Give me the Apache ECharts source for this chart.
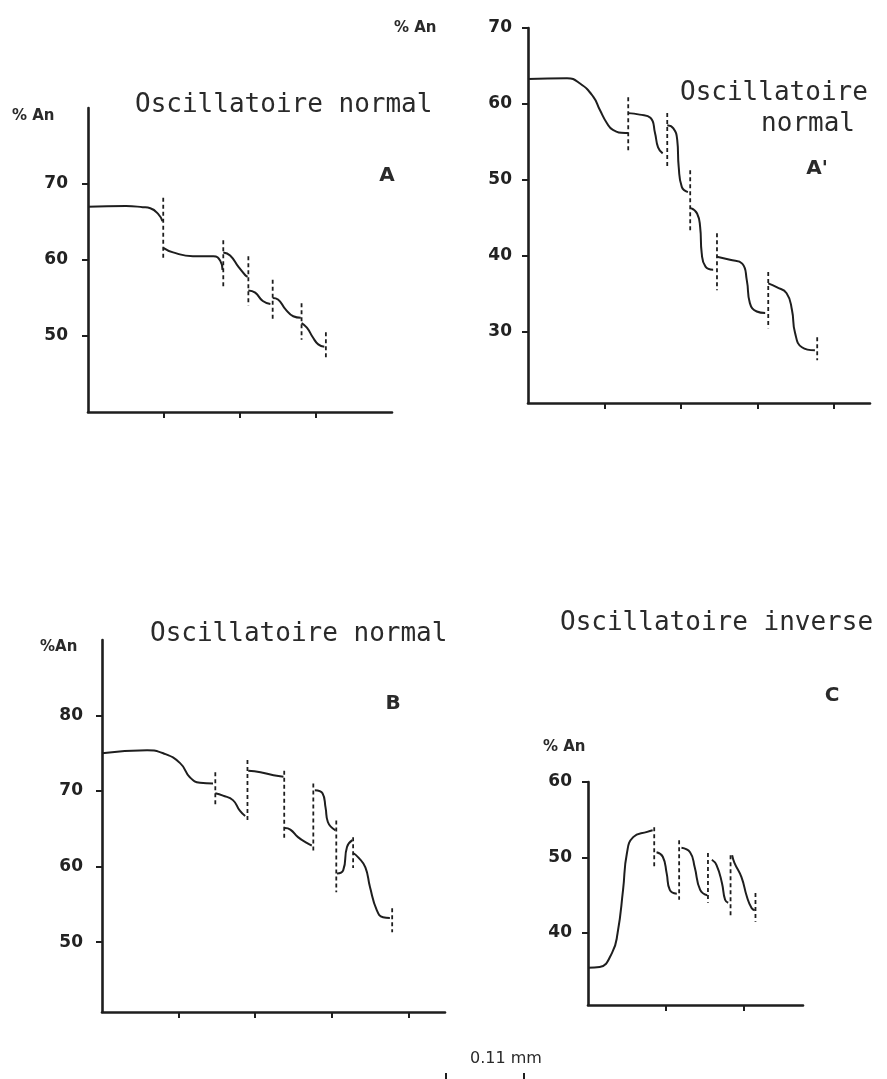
<!DOCTYPE html>
<html>
<head>
<meta charset="utf-8">
<script src="https://cdn.jsdelivr.net/npm/echarts@6/dist/echarts.min.js"></script>
<style>
  html, body { margin: 0; padding: 0; background: #ffffff; }
  #chart { width: 887px; height: 1079px; }
</style>
</head>
<body>
<div id="chart"></div>
<script>
// Zoning profiles (% An versus distance across the crystal; one x unit = 0.11 mm).
// Each profile is a list of continuous segments; the dashed lines mark the
// resorption surfaces between growth zones as [x, upper % An, lower % An].

// Panel A : oscillatoire normal
const curveA = [
  [[0, 67.0], [0.5, 67.1], [0.72, 66.95], [0.82, 66.8], [0.92, 66.1], [0.98, 65.1]],
  [[0.99, 61.6], [1.12, 61.0], [1.38, 60.5], [1.65, 60.5], [1.74, 59.9], [1.77, 58.7]],
  [[1.78, 61.0], [1.87, 60.6], [1.98, 59.1], [2.07, 58.0], [2.1, 57.8]],
  [[2.11, 56.0], [2.2, 55.7], [2.3, 54.6], [2.4, 54.2]],
  [[2.43, 55.0], [2.5, 54.8], [2.6, 53.5], [2.7, 52.6], [2.8, 52.4]],
  [[2.81, 51.7], [2.88, 51.1], [2.96, 49.8], [3.03, 48.9], [3.11, 48.6]]
];
const dashA = [[0.99, 68.2, 60.0], [1.78, 62.6, 56.3], [2.11, 60.5, 54.0], [2.43, 57.4, 52.1], [2.81, 54.3, 49.5], [3.13, 50.5, 47.2]];

// Panel A' : oscillatoire normal
const curveA2 = [
  [[0, 63.3], [0.51, 63.4], [0.68, 62.7], [0.85, 61.0], [0.94, 59.2], [1.03, 57.5], [1.11, 56.6], [1.27, 56.2], [1.31, 56.2]],
  [[1.31, 58.8], [1.46, 58.6], [1.6, 58.2], [1.66, 56.2], [1.7, 54.3], [1.76, 53.5]],
  [[1.82, 57.2], [1.9, 56.8], [1.95, 55.3], [1.97, 51.7], [2.01, 49.1], [2.09, 48.4]],
  [[2.13, 46.3], [2.21, 45.6], [2.25, 43.8], [2.27, 40.4], [2.32, 38.6], [2.42, 38.2]],
  [[2.47, 39.9], [2.64, 39.5], [2.8, 39.0], [2.86, 36.8], [2.9, 33.8], [2.99, 32.7], [3.1, 32.5]],
  [[3.14, 36.4], [3.25, 35.9], [3.38, 35.1], [3.45, 32.9], [3.49, 29.9], [3.58, 28.0], [3.75, 27.6]]
];
const dashA2 = [[1.31, 60.9, 53.7], [1.82, 58.8, 51.7], [2.12, 51.3, 43.4], [2.47, 43.0, 35.5], [3.14, 37.9, 30.5], [3.78, 29.3, 26.3]];

// Panel B : oscillatoire normal
const curveB = [
  [[0, 75.0], [0.59, 75.4], [0.8, 75.0], [1.02, 73.7], [1.15, 71.8], [1.28, 71.1], [1.45, 71.0]],
  [[1.48, 69.7], [1.58, 69.4], [1.71, 68.8], [1.8, 67.4], [1.87, 66.7]],
  [[1.91, 72.7], [2.07, 72.5], [2.24, 72.1], [2.37, 71.9]],
  [[2.39, 65.1], [2.46, 64.9], [2.56, 63.9], [2.68, 63.1], [2.74, 62.8]],
  [[2.78, 70.1], [2.88, 69.7], [2.92, 67.8], [2.95, 65.9], [3.05, 64.8]],
  [[3.07, 59.1], [3.15, 59.5], [3.2, 62.6], [3.27, 63.5]],
  [[3.28, 61.8], [3.35, 61.2], [3.44, 59.9], [3.5, 57.3], [3.59, 54.2], [3.67, 53.3], [3.76, 53.2]]
];
const dashB = [[1.48, 72.5, 68.1], [1.9, 74.1, 65.9], [2.38, 72.7, 63.5], [2.76, 71.0, 61.9], [3.06, 66.1, 56.6], [3.28, 63.9, 59.8], [3.79, 54.5, 51.3]];

// Panel C : oscillatoire inverse
const curveC = [
  [[0, 35.4], [0.15, 35.5], [0.31, 37.4], [0.38, 40.0], [0.45, 45.7], [0.5, 50.6], [0.58, 52.7], [0.76, 53.4], [0.83, 53.6]],
  [[0.88, 50.7], [0.96, 50.1], [1.01, 47.9], [1.05, 45.7], [1.14, 45.2]],
  [[1.2, 51.3], [1.31, 50.7], [1.37, 48.7], [1.44, 45.7], [1.53, 45.0]],
  [[1.59, 49.7], [1.65, 49.0], [1.72, 46.6], [1.76, 44.4], [1.8, 44.0]],
  [[1.85, 50.3], [1.88, 49.3], [1.97, 47.4], [2.04, 44.8], [2.1, 43.3], [2.14, 43.0]]
];
const dashC = [[0.85, 54.0, 48.7], [1.17, 52.3, 44.4], [1.54, 50.6, 44.0], [1.83, 50.3, 42.1], [2.15, 45.3, 41.5]];

// Axis tick values
const yTicksA = [50, 60, 70];
const yTicksA2 = [30, 40, 50, 60, 70];
const yTicksB = [50, 60, 70, 80];
const yTicksC = [40, 50, 60];
const xTicksA = [1, 2, 3];
const xTicksA2 = [1, 2, 3, 4];
const xTicksB = [1, 2, 3, 4];
const xTicksC = [1, 2];

// Join segments into one line, breaking between them
function joinSegments(segs) {
  const out = [];
  segs.forEach((seg, i) => {
    if (i > 0) out.push([seg[0][0], '-']);
    seg.forEach(p => out.push(p));
  });
  return out;
}
function dashSegments(dashes) {
  const out = [];
  dashes.forEach((d, i) => {
    if (i > 0) out.push([d[0], '-']);
    out.push([d[0], d[1]], [d[0], d[2]]);
  });
  return out;
}

const INK = '#1e1e1e';
const axisLine = { show: true, onZero: false, lineStyle: { color: INK, width: 2.6 } };

function xAxisFor(idx, max, ticks) {
  return {
    type: 'value', gridIndex: idx, min: 0, max: max,
    axisLine: axisLine,
    axisTick: { show: true, customValues: ticks, length: 6, lineStyle: { color: INK, width: 2 } },
    axisLabel: { show: false },
    splitLine: { show: false }
  };
}
function yAxisFor(idx, min, max, ticks, margin, weight) {
  return {
    type: 'value', gridIndex: idx, min: min, max: max,
    axisLine: axisLine,
    axisTick: { show: true, customValues: ticks, length: 6, lineStyle: { color: INK, width: 2 } },
    axisLabel: {
      show: true, customValues: ticks, margin: margin,
      fontFamily: 'DejaVu Sans', fontWeight: weight, fontSize: 17, color: '#222'
    },
    splitLine: { show: false }
  };
}

const curveStyle = { color: INK, width: 2 };
const dashStyle = { color: INK, width: 1.8, type: [4, 3] };
function curveSeries(idx, segs) {
  return {
    type: 'line', xAxisIndex: idx, yAxisIndex: idx, data: joinSegments(segs),
    symbol: 'none', smooth: 0.5, connectNulls: false,
    lineStyle: curveStyle, silent: true
  };
}
function dashSeries(idx, dashes) {
  return {
    type: 'line', xAxisIndex: idx, yAxisIndex: idx, data: dashSegments(dashes),
    symbol: 'none', smooth: false, connectNulls: false,
    lineStyle: dashStyle, silent: true
  };
}

const monoFont = '26px "DejaVu Sans Mono"';
const letterFont = 'bold 20px "DejaVu Sans"';
const unitFont = 'bold 15px "DejaVu Sans"';
function txt(x, y, text, font, align) {
  return {
    type: 'text', x: x, y: y, silent: true,
    style: { text: text, font: font, fill: '#2a2a2a', textAlign: align || 'left', textVerticalAlign: 'middle' }
  };
}

const option = {
  animation: false,
  backgroundColor: '#ffffff',
  grid: [
    { left: 88, top: 108, width: 304, height: 304 },
    { left: 528, top: 28, width: 342, height: 375 },
    { left: 102, top: 640, width: 343, height: 372 },
    { left: 588, top: 782, width: 215, height: 223 }
  ],
  xAxis: [
    xAxisFor(0, 4, xTicksA),
    xAxisFor(1, 4.47, xTicksA2),
    xAxisFor(2, 4.48, xTicksB),
    xAxisFor(3, 2.76, xTicksC)
  ],
  yAxis: [
    yAxisFor(0, 40, 80, yTicksA, 20, 'bold'),
    yAxisFor(1, 20.66, 70, yTicksA2, 16, '600'),
    yAxisFor(2, 40.75, 90, yTicksB, 19, 'bold'),
    yAxisFor(3, 30.46, 60, yTicksC, 16, '600')
  ],
  series: [
    curveSeries(0, curveA), dashSeries(0, dashA),
    curveSeries(1, curveA2), dashSeries(1, dashA2),
    curveSeries(2, curveB), dashSeries(2, dashB),
    curveSeries(3, curveC), dashSeries(3, dashC)
  ],
  graphic: [
    // panel A
    txt(135, 105, 'Oscillatoire normal', monoFont),
    txt(387, 176, 'A', letterFont, 'center'),
    txt(12, 116, '% An', unitFont),
    // panel A'
    txt(680, 93, 'Oscillatoire', monoFont),
    txt(855, 124, 'normal', monoFont, 'right'),
    txt(817, 169, "A'", letterFont, 'center'),
    txt(394, 28, '% An', unitFont),
    // panel B
    txt(150, 634, 'Oscillatoire normal', monoFont),
    txt(393, 704, 'B', letterFont, 'center'),
    txt(40, 647, '%An', unitFont),
    // panel C
    txt(560, 623, 'Oscillatoire inverse', monoFont),
    txt(832, 696, 'C', letterFont, 'center'),
    txt(543, 747, '% An', unitFont),
    // scale bar
    txt(506, 1059, '0.11 mm', '16px "DejaVu Sans"', 'center'),
    { type: 'line', silent: true, shape: { x1: 446, y1: 1073, x2: 446, y2: 1084 }, style: { stroke: INK, lineWidth: 2 } },
    { type: 'line', silent: true, shape: { x1: 524, y1: 1073, x2: 524, y2: 1084 }, style: { stroke: INK, lineWidth: 2 } },
    { type: 'line', silent: true, shape: { x1: 446, y1: 1083, x2: 524, y2: 1083 }, style: { stroke: INK, lineWidth: 2 } }
  ]
};

const chart = echarts.init(document.getElementById('chart'), null, { renderer: 'canvas' });
chart.setOption(option);
</script>
</body>
</html>
